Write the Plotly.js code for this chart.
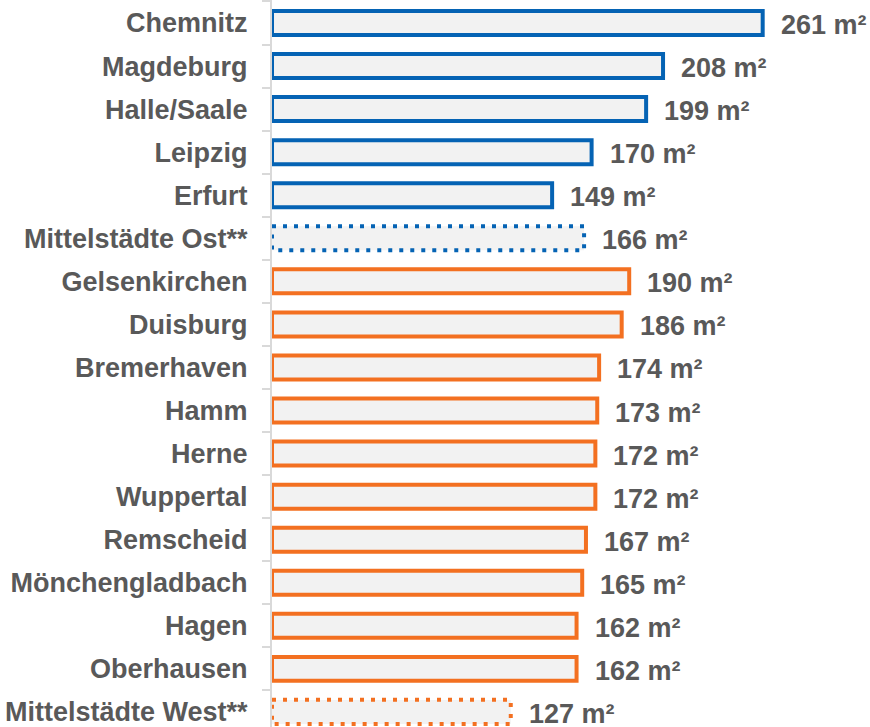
<!DOCTYPE html>
<html>
<head>
<meta charset="utf-8">
<script src="https://cdn.plot.ly/plotly-3.0.1.min.js"></script>
<style>html,body{margin:0;padding:0;background:#fff;}#chart{width:870px;height:727px;}</style>
</head>
<body>
<div id="chart"></div>
<script>
const cities = ["Chemnitz","Magdeburg","Halle/Saale","Leipzig","Erfurt","Mittelstädte Ost**","Gelsenkirchen","Duisburg","Bremerhaven","Hamm","Herne","Wuppertal","Remscheid","Mönchengladbach","Hagen","Oberhausen","Mittelstädte West**"];
const values = [261,208,199,170,149,166,190,186,174,173,172,172,167,165,162,162,127];
const region = ["Ost","Ost","Ost","Ost","Ost","Ost","West","West","West","West","West","West","West","West","West","West","West"];
const isAverage = [false,false,false,false,false,true,false,false,false,false,false,false,false,false,false,false,true];
const unit = " m²";

const BLUE = "#0563b4", ORANGE = "#f37021", FILL = "#f2f2f2", TEXT = "#595959";
const FONT = "Liberation Sans, Arial, Helvetica, sans-serif";
const colorOf = r => r === "Ost" ? BLUE : ORANGE;
const halfBar = 0.28;

const trace = {
  type: "bar",
  orientation: "h",
  x: values,
  y: cities,
  marker: {
    color: FILL,
    line: {
      color: region.map(colorOf),
      width: isAverage.map(a => a ? 0 : 4)
    }
  },
  hoverinfo: "none",
  cliponaxis: false
};

const shapes = [];
cities.forEach((c, i) => {
  if (isAverage[i]) {
    shapes.push({
      type: "rect", xref: "x", yref: "y",
      x0: 0, x1: values[i], y0: i - halfBar, y1: i + halfBar,
      line: {color: colorOf(region[i]), width: 4, dash: "4px,7px"},
      fillcolor: "rgba(0,0,0,0)"
    });
  }
});

const annotations = cities.map((c, i) => ({
  x: values[i], y: i, xref: "x", yref: "y",
  text: "<b>" + values[i] + unit + "</b>",
  showarrow: false, xanchor: "left", yanchor: "middle",
  xshift: 16, yshift: -2,
  font: {family: FONT, size: 27, color: TEXT}
}));

const layout = {
  width: 870, height: 727,
  margin: {l: 272, r: 34, t: 0, b: 0},
  paper_bgcolor: "#fff", plot_bgcolor: "#fff",
  showlegend: false,
  bargap: 0.443,
  xaxis: {range: [0, 300], visible: false, fixedrange: true},
  yaxis: {
    type: "category",
    range: [16.35, -0.534],
    autorange: false,
    showline: true, linecolor: "#d9d9d9", linewidth: 2,
    ticks: "outside", tickson: "boundaries", ticklen: 8, tickwidth: 2, tickcolor: "#d9d9d9",
    showgrid: false, zeroline: false,
    ticklabelstandoff: 17,
    tickfont: {family: FONT, size: 27, color: TEXT, weight: "bold"}
  },
  shapes: shapes,
  annotations: annotations
};

Plotly.newPlot("chart", [trace], layout, {displayModeBar: false, staticPlot: true});
</script>
</body>
</html>
